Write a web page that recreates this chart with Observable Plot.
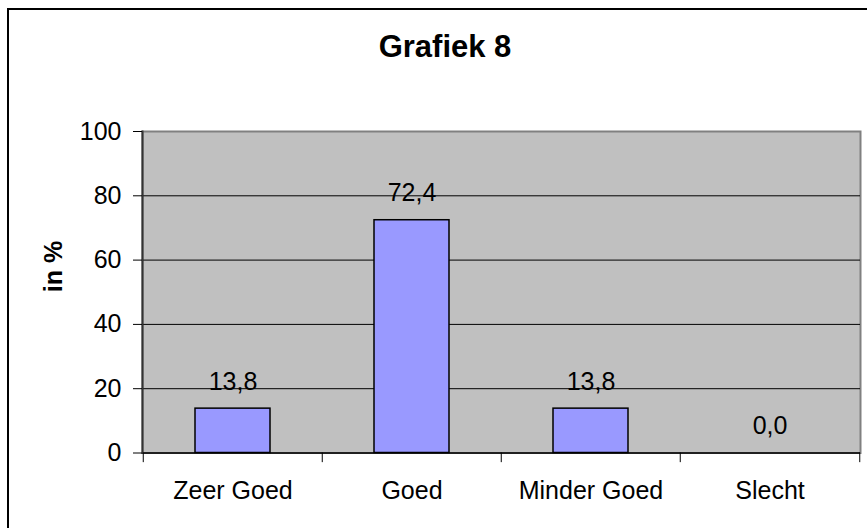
<!DOCTYPE html>
<html><head><meta charset="utf-8">
<script src="https://cdn.jsdelivr.net/npm/d3@7"></script>
<script src="https://cdn.jsdelivr.net/npm/@observablehq/plot@0.6"></script>
<style>
html,body{margin:0;padding:0;overflow:hidden;background:#fff;}
#wrap{position:relative;width:867px;height:528px;overflow:hidden;font-family:"Liberation Sans",Arial,sans-serif;}
#border{position:absolute;left:7px;top:8px;width:1000px;height:1000px;border-left:2px solid #000;border-top:2px solid #000;}
#title{position:absolute;left:0;width:890px;top:31px;text-align:center;font-weight:bold;font-size:31px;line-height:31px;color:#000;}
#chart{position:absolute;left:0;top:100px;}
</style></head><body>
<div id="wrap"><div id="border"></div><div id="title"></div><div id="chart"></div></div>
<script>
const title = "Grafiek 8";
const categories = ["Zeer Goed", "Goed", "Minder Goed", "Slecht"];
const values = [13.8, 72.4, 13.8, 0.0];
const yTicks = [0, 20, 40, 60, 80, 100];
const gridValues = [20, 40, 60, 80];
const yLabel = "in %";

document.getElementById("title").textContent = title;

const data = categories.map((c, i) => ({category: c, value: values[i]}));
const W = 867, H = 428, ML = 142, MR = 7, MT = 31, MB = 75.5;
const halfStep = (W - ML - MR) / categories.length / 2;
const fmt = v => d3.format(".1f")(v).replace(".", ",");

const chart = Plot.plot({
  width: W, height: H, marginLeft: ML, marginRight: MR, marginTop: MT, marginBottom: MB,
  style: {fontFamily: '"Liberation Sans", Arial, sans-serif', fontSize: "25px", color: "#000", background: "transparent", overflow: "visible"},
  x: {domain: categories, paddingInner: 0.582, paddingOuter: 0.291},
  y: {domain: [0, 100]},
  marks: [
    Plot.frame({fill: "#c0c0c0", stroke: "#808080", strokeWidth: 2}),
    Plot.ruleY(gridValues, {stroke: "#000", strokeWidth: 1}),
    Plot.barY(data, {x: "category", y: "value", fill: "#9999ff", stroke: "#000", strokeWidth: 1.5}),
    Plot.text(data, {x: "category", y: "value", text: d => fmt(d.value), lineAnchor: "bottom", dy: -19, fill: "#000"}),
    Plot.ruleY([0], {stroke: "#000", strokeWidth: 1.5}),
    Plot.frame({anchor: "left", stroke: "#333", strokeWidth: 2}),
    Plot.axisY({ticks: yTicks, tickSize: 9, tickPadding: 12, label: null, tickFormat: d => d, stroke: "#000"}),
    Plot.ruleX(categories, {x: d => d, y1: 0, y2: -3, dx: -halfStep, stroke: "#000"}),
    Plot.ruleX([categories[categories.length - 1]], {x: d => d, y1: 0, y2: -3, dx: halfStep, stroke: "#000"}),
    Plot.axisX({tickSize: 0, tickPadding: 28, label: null}),
    Plot.text([yLabel], {frameAnchor: "left", rotate: -90, dx: -88.5, fontWeight: "bold", text: d => d, fill: "#000"})
  ]
});
document.getElementById("chart").appendChild(chart);
</script>
</body></html>
